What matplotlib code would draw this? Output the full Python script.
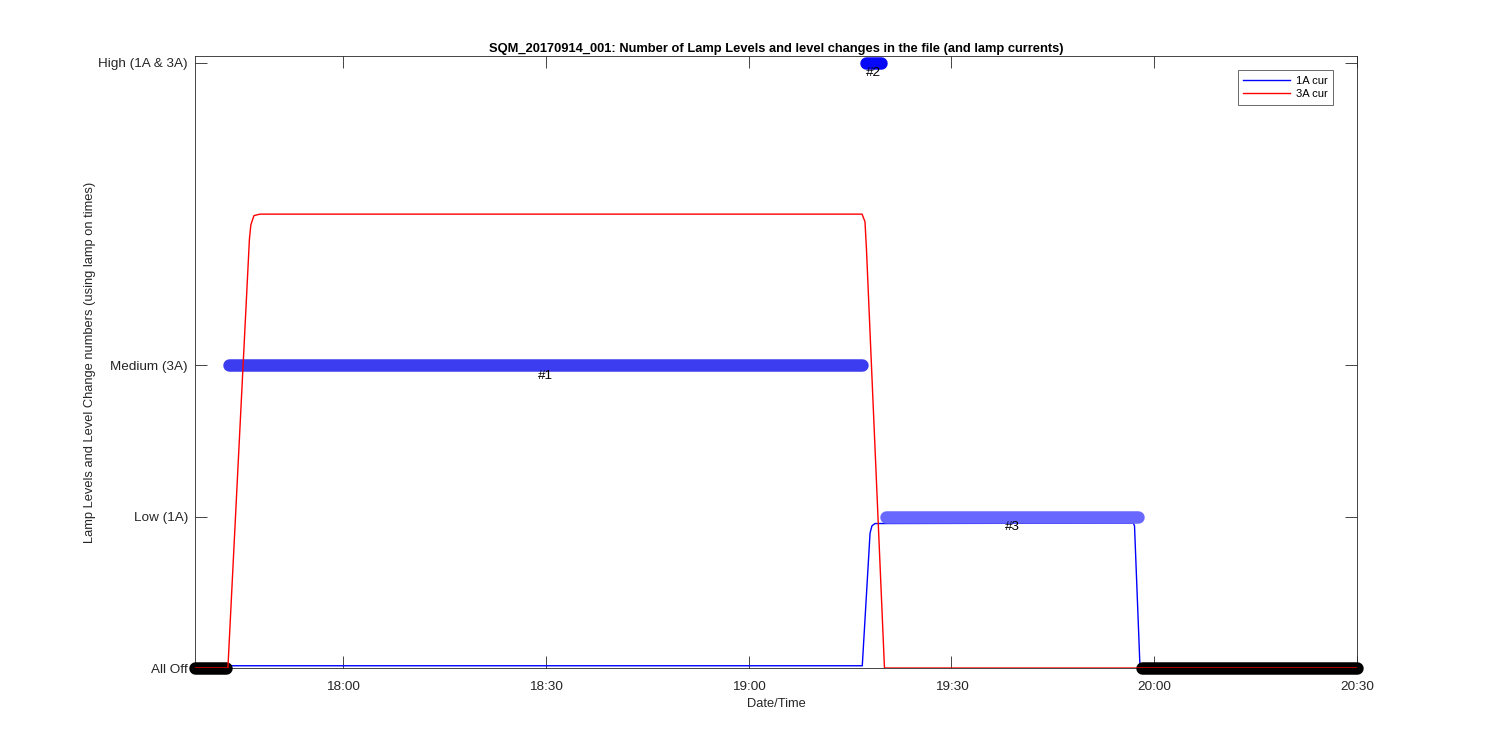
import matplotlib
matplotlib.use("Agg")
import matplotlib.pyplot as plt
import matplotlib.dates as mdates
from datetime import datetime

plt.rcParams['font.family'] = ['Liberation Sans', 'DejaVu Sans']

DAY = "2017-09-14 "
def T(s):
    return datetime.strptime(DAY + s, "%Y-%m-%d %H:%M:%S")

# ---- Data ----
level_ticks = [0, 1, 2, 4]
level_labels = ["All Off", "Low (1A)", "Medium (3A)", "High (1A & 3A)"]

# level segments: (start, end, level, label, color)
seg_starts = ["17:38:07", "17:43:10", "19:17:25", "19:20:20", "19:58:12"]
seg_ends = ["17:42:45", "19:16:47", "19:19:36", "19:57:36", "20:30:00"]
seg_levels = [0, 2, 4, 1, 0]
seg_names = ["", "#1", "#2", "#3", ""]
seg_colors = ["#000000", "#3c3cf0", "#0808f8", "#6868ff", "#000000"]

cur3_times = ["17:38:07", "17:42:59", "17:46:10", "17:46:23", "17:46:50", "17:47:43",
              "19:16:47", "19:17:13", "19:17:26", "19:20:06", "20:30:00"]
cur3_vals = [0.0, 0.0, 2.835, 2.93, 2.99, 3.0, 3.0, 2.95, 2.77, 0.0, 0.0]

cur1_times = ["17:38:07", "19:16:49", "19:17:58", "19:18:15", "19:18:42",
              "19:56:54", "19:57:05", "19:57:54", "20:30:00"]
cur1_vals = [0.015, 0.015, 0.892, 0.94, 0.955, 0.958, 0.94, 0.0, 0.0]

xtick_times = ["18:00:00", "18:30:00", "19:00:00", "19:30:00", "20:00:00", "20:30:00"]

# ---- Plot ----
fig = plt.figure(figsize=(15, 7.5), dpi=100)
ax = fig.add_axes([0.13, 0.1093, 0.7747, 0.816])

ax.plot([T(t) for t in cur1_times], cur1_vals, color="#0000ff", lw=1.0, zorder=2, label="1A cur")

for s, e, lv, nm, c in zip(seg_starts, seg_ends, seg_levels, seg_names, seg_colors):
    ts, te = T(s), T(e)
    ax.plot([ts, te], [lv, lv], color=c, lw=9, solid_capstyle="round", zorder=3, clip_on=False)
    if nm:
        mid = ts + (te - ts) / 2
        ax.annotate(nm, xy=(mid, lv), xytext=(0, -7.5), textcoords="offset points",
                    ha="center", va="center", fontsize=9.7, color="#000000", zorder=5)

ax.plot([T(t) for t in cur3_times], cur3_vals, color="#ff0000", lw=1.0, zorder=4, label="3A cur")

ax.set_xlim(T("17:38:07"), T("20:30:00"))
ax.set_ylim(0, 4.045)
ax.set_yticks(level_ticks)
ax.set_yticklabels(level_labels)
ax.set_xticks([T(t) for t in xtick_times])
ax.xaxis.set_major_formatter(mdates.DateFormatter("%H:%M"))

ax.tick_params(direction="in", length=8.5, width=0.6, top=True, right=True,
               labelsize=9.7, colors="#262626")
ax.tick_params(axis="x", pad=9)
ax.tick_params(axis="y", pad=5)
for sp in ax.spines.values():
    sp.set_linewidth(0.6)
    sp.set_color("#262626")

ax.set_title("SQM_20170914_001: Number of Lamp Levels and level changes in the file (and lamp currents)",
             fontsize=9.3, fontweight="bold", pad=3)
ax.set_xlabel("Date/Time", fontsize=9.3, color="#262626", labelpad=4)
ax.set_ylabel("Lamp Levels and Level Change numbers (using lamp on times)", fontsize=9.3,
              color="#262626", labelpad=2)

leg = ax.legend(loc="upper right", bbox_to_anchor=(0.9793, 0.977), borderaxespad=0,
                fontsize=8, fancybox=False, handlelength=4.2, handletextpad=0.5,
                borderpad=0.5, labelspacing=0.3)
leg.get_frame().set_edgecolor("#262626")
leg.get_frame().set_linewidth(0.6)

fig.savefig("out.png", dpi=100)
